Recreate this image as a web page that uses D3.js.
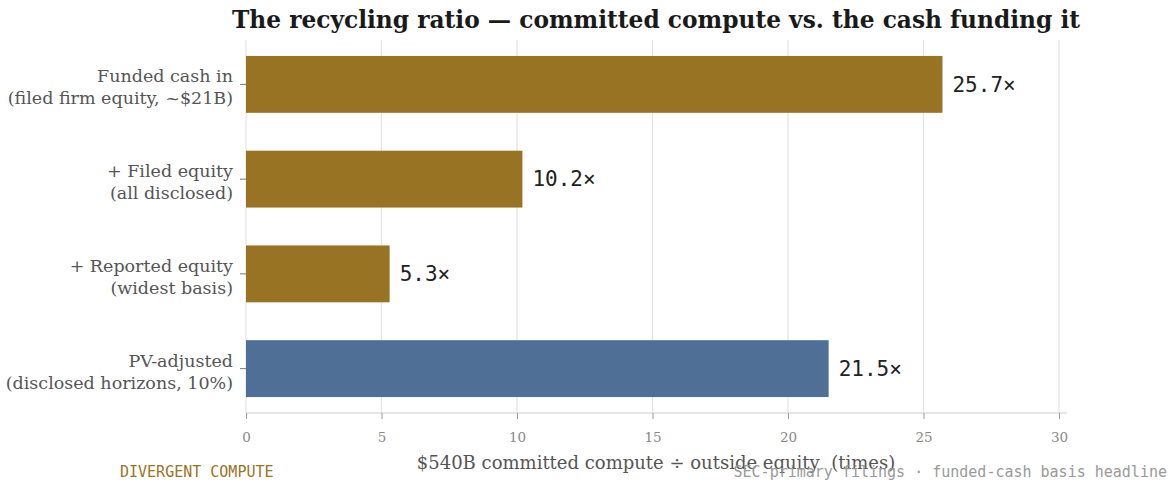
<!DOCTYPE html>
<html><head><meta charset="utf-8">
<script src="https://cdn.jsdelivr.net/npm/d3@7"></script>
<style>
body{margin:0;background:#fff;}
svg{display:block;}
</style></head>
<body>
<svg id="chart" width="1175" height="487"></svg>
<script>
const categories = [
  ["Funded cash in", "(filed firm equity, ~$21B)"],
  ["+ Filed equity", "(all disclosed)"],
  ["+ Reported equity", "(widest basis)"],
  ["PV-adjusted", "(disclosed horizons, 10%)"]
];
const values = [25.7, 10.2, 5.3, 21.5];
const barColors = ["#997324", "#997324", "#997324", "#4f6f96"];
const xTicks = [0, 5, 10, 15, 20, 25, 30];
const titleText = "The recycling ratio — committed compute vs. the cash funding it";
const xAxisTitle = "$540B committed compute ÷ outside equity  (times)";
const brandText = "DIVERGENT COMPUTE";
const sourceText = "SEC-primary filings · funded-cash basis headline";

const serif = "'DejaVu Serif', Georgia, serif";
const mono = "'DejaVu Sans Mono', 'Liberation Mono', monospace";

const svg = d3.select("#chart");
const x = d3.scaleLinear().domain([0, 30]).range([246, 1059]);
const y = d3.scaleBand().domain(d3.range(categories.length)).range([37, 416]).paddingInner(0.4).paddingOuter(0.2);
const axisY = 413;

// gridlines
svg.append("g").selectAll("line").data(xTicks).join("line")
  .attr("x1", d => x(d)).attr("x2", d => x(d))
  .attr("y1", 40).attr("y2", axisY)
  .attr("stroke", "#e3e3e3").attr("stroke-width", 1.2);

// bars
svg.append("g").selectAll("rect").data(values).join("rect")
  .attr("x", x(0)).attr("y", (d, i) => y(i))
  .attr("width", d => x(d) - x(0)).attr("height", y.bandwidth())
  .attr("fill", (d, i) => barColors[i]);

// value labels
svg.append("g").selectAll("text").data(values).join("text")
  .attr("x", d => x(d) + 10).attr("y", (d, i) => y(i) + y.bandwidth() / 2)
  .attr("dy", "0.35em")
  .attr("font-family", mono).attr("font-size", 21).attr("fill", "#222")
  .text(d => d.toFixed(1) + "×");

// x axis
const xAxis = svg.append("g").attr("transform", `translate(0,${axisY})`)
  .call(d3.axisBottom(x).tickValues(xTicks).tickSize(6).tickPadding(13).tickSizeOuter(0));
xAxis.select(".domain").attr("d", `M${x(0)},0H${x(30) + 8}`).attr("stroke", "#ddd").attr("stroke-width", 1.5);
xAxis.selectAll(".tick line").attr("stroke", "#999");
xAxis.selectAll(".tick text").attr("font-family", serif).attr("font-size", 13.5).attr("fill", "#888");

// y axis
const yAxis = svg.append("g").attr("transform", `translate(${x(0)},0)`)
  .call(d3.axisLeft(y).tickSize(6).tickPadding(9).tickFormat(() => ""));
yAxis.select(".domain").remove();
yAxis.selectAll(".tick line").attr("stroke", "#777");
yAxis.selectAll(".tick").each(function(d) {
  const t = d3.select(this).select("text")
    .attr("font-family", serif).attr("font-size", 17.5).attr("fill", "#555")
    .attr("text-anchor", "end").attr("x", -13).attr("dy", null);
  t.selectAll("tspan").data(categories[d]).join("tspan")
    .attr("x", -13).attr("y", (s, j) => j === 0 ? -2 : 20)
    .text(s => s);
});

// title
svg.append("text").attr("x", 656).attr("y", 28).attr("text-anchor", "middle")
  .attr("font-family", serif).attr("font-weight", "bold").attr("font-size", 23.3).attr("fill", "#1a1a1a")
  .text(titleText);

// x axis title
svg.append("text").attr("x", 656).attr("y", 469).attr("text-anchor", "middle")
  .attr("font-family", serif).attr("font-size", 18).attr("fill", "#555")
  .attr("xml:space", "preserve")
  .text(xAxisTitle);

// footer
svg.append("text").attr("x", 120).attr("y", 477)
  .attr("font-family", mono).attr("font-size", 15).attr("fill", "#9a7325")
  .text(brandText);
svg.append("text").attr("x", 1167).attr("y", 477).attr("text-anchor", "end")
  .attr("font-family", mono).attr("font-size", 15).attr("fill", "#999")
  .text(sourceText);
</script>
</body></html>
